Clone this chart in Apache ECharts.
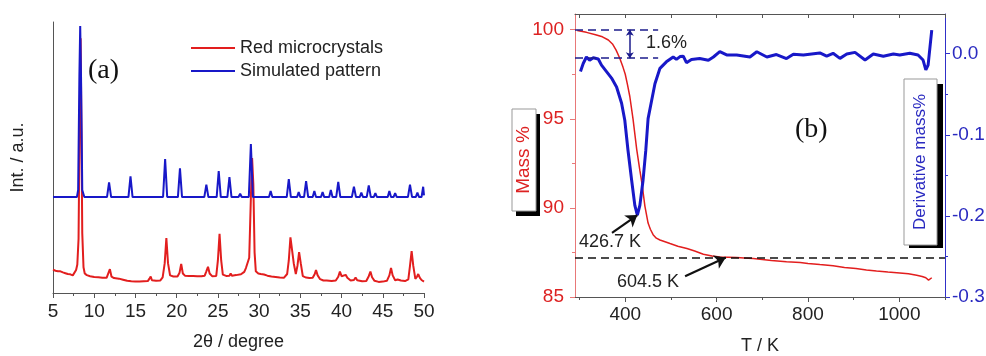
<!DOCTYPE html>
<html>
<head>
<meta charset="utf-8">
<script src="https://cdn.jsdelivr.net/npm/echarts@6/dist/echarts.min.js"></script>
<style>
  html, body { margin: 0; padding: 0; background: #fff; }
  #chart { width: 986px; height: 356px; }
</style>
</head>
<body>
<div id="chart"></div>
<script>
// (a) powder XRD, [2theta, intensity a.u.]
const xrdRed = [
  [5, 8.6], [5.3, 8.2], [5.6, 8.0], [5.9, 8.0], [6.2, 7.6], [6.5, 7.3], [6.8, 7.0], [7.1, 6.9], [7.4, 6.5],
  [7.6, 6.9], [7.8, 8.5], [7.95, 10.5], [8.1, 20], [8.22, 60], [8.35, 94], [8.45, 60], [8.55, 22], [8.7, 9.5],
  [8.85, 7.2], [9.1, 6.6], [9.5, 6.2], [10, 5.9], [10.5, 5.8], [11, 5.6], [11.5, 5.6], [11.7, 6.2], [11.9, 8.8],
  [12.1, 6.0], [12.4, 5.5], [13, 5.3], [13.5, 4.9], [14, 4.5], [14.5, 4.3], [15, 4.2], [15.5, 4.2], [16, 4.3],
  [16.5, 4.4], [16.7, 5.3], [16.85, 6.1], [17.0, 4.7], [17.5, 4.5], [18, 4.6], [18.3, 5.8], [18.55, 11],
  [18.75, 20.3], [18.95, 11], [19.2, 6.5], [19.6, 6.1], [20.1, 6.1], [20.35, 7.5], [20.55, 10.7], [20.75, 7.2],
  [21, 6.4], [21.5, 6.3], [22, 6.3], [22.5, 6.2], [23, 6.2], [23.4, 6.4], [23.6, 8], [23.8, 9.7], [24.0, 7.2],
  [24.3, 6.2], [24.8, 6.3], [25.0, 12], [25.2, 21.8], [25.4, 12], [25.6, 6.8], [26, 6.3], [26.4, 6.4],
  [26.55, 7.2], [26.7, 6.4], [27.2, 6.6], [27.8, 6.9], [28.2, 7.8], [28.4, 9.2], [28.6, 8.5], [28.8, 13],
  [29.0, 35], [29.15, 49.8], [29.3, 40], [29.45, 15], [29.6, 8.0], [29.9, 7.2], [30.2, 7.0], [30.4, 7.5],
  [30.6, 6.8], [31, 6.4], [31.5, 6.1], [32, 5.9], [32.5, 5.7], [33, 5.6], [33.4, 7], [33.6, 12], [33.8, 20.5],
  [33.95, 21], [34.2, 11], [34.45, 7], [34.65, 10], [34.85, 15.1], [35.05, 11], [35.3, 6.2], [35.7, 5.7],
  [35.9, 6.1], [36.1, 5.5], [36.5, 5.6], [36.75, 7], [36.9, 8.5], [37.1, 6.5], [37.4, 5.1], [37.8, 4.6],
  [38.2, 4.6], [38.8, 4.4], [39.3, 4.6], [39.6, 6], [39.8, 7.9], [40.0, 6.2], [40.2, 5.6], [40.5, 6.7],
  [40.7, 5.6], [41.1, 4.6], [41.5, 4.8], [41.7, 5.7], [41.9, 4.7], [42.5, 4.3], [43.0, 4.4], [43.3, 6.2],
  [43.5, 7.9], [43.7, 5.8], [44.0, 4.5], [44.5, 4.1], [45, 4.2], [45.5, 4.5], [45.8, 6.5], [46.0, 9.2],
  [46.2, 6.5], [46.5, 4.7], [46.8, 5], [46.95, 5.5], [47.2, 4.6], [47.7, 4.4], [48.1, 5], [48.3, 10],
  [48.5, 15.5], [48.7, 10], [48.95, 5.2], [49.15, 6], [49.3, 7.0], [49.5, 5.6], [49.7, 4.8], [50, 4.2]
];
const xrdBlue = [
  [5, 35.4], [7.9, 35.4], [8.05, 38], [8.2, 80], [8.3, 98.5], [8.4, 80], [8.55, 38], [8.8, 35.4],
  [11.55, 35.4], [11.8, 40.8], [12.05, 35.4], [14.15, 35.4], [14.4, 43], [14.65, 35.4],
  [16.5, 35.4], [16.7, 36], [16.9, 35.4], [18.35, 35.4], [18.6, 49.4], [18.85, 35.4],
  [20.15, 35.4], [20.4, 46], [20.65, 35.4], [23.35, 35.4], [23.6, 40], [23.85, 35.4],
  [24.85, 35.4], [25.1, 45], [25.35, 35.4], [26.15, 35.4], [26.4, 42.8], [26.65, 35.4],
  [27.5, 35.4], [27.7, 36.6], [27.9, 35.4], [28.75, 35.4], [29.0, 55], [29.25, 35.4],
  [30.1, 35.4], [30.3, 35.9], [30.5, 35.4], [31.2, 35.4], [31.4, 37.6], [31.6, 35.4],
  [33.35, 35.4], [33.6, 42], [33.85, 35.4], [34.6, 35.4], [34.8, 37.2], [35.0, 35.4],
  [35.45, 35.4], [35.7, 41.3], [35.95, 35.4], [36.5, 35.4], [36.7, 37.6], [36.9, 35.4],
  [37.5, 35.4], [37.7, 37.2], [37.9, 35.4], [38.5, 35.4], [38.7, 38], [38.9, 35.4],
  [39.35, 35.4], [39.6, 41], [39.85, 35.4], [41.25, 35.4], [41.5, 39.2], [41.75, 35.4],
  [42.2, 35.4], [42.4, 37], [42.6, 35.4], [43.05, 35.4], [43.3, 39.7], [43.55, 35.4],
  [43.9, 35.4], [44.1, 36.8], [44.3, 35.4], [45.6, 35.4], [45.8, 37.6], [46.0, 35.4],
  [46.3, 35.4], [46.5, 36.8], [46.7, 35.4], [48.05, 35.4], [48.3, 40], [48.55, 35.4],
  [49.0, 35.4], [49.2, 37], [49.4, 35.4], [49.7, 35.4], [49.9, 39.2], [50, 36]
];

// (b) TGA, [T in K, mass %] and derivative [T, d mass%]
const tgaMass = [
  [295, 99.95], [315, 99.85], [335, 99.72], [350, 99.6], [363, 99.42], [372, 99.2], [380, 98.85],
  [388, 98.4], [395, 97.9], [400, 97.5], [405, 96.9], [410, 96.25], [417, 95.0], [425, 93.3],
  [432, 92.1], [437, 91.3], [443, 90.1], [450, 89.15], [455, 88.8], [461, 88.5], [468, 88.3],
  [476, 88.2], [487, 88.1], [498, 88.0], [515, 87.85], [535, 87.72], [552, 87.58], [571, 87.4],
  [590, 87.3], [607, 87.25], [625, 87.23], [644, 87.21], [660, 87.19], [680, 87.16], [700, 87.1],
  [720, 87.05], [753, 86.98], [783, 86.93], [800, 86.88], [826, 86.82], [855, 86.76], [880, 86.66],
  [905, 86.6], [928, 86.52], [950, 86.46], [975, 86.4], [1001, 86.35], [1020, 86.3], [1038, 86.22],
  [1050, 86.15], [1058, 86.08], [1064, 85.95], [1068, 86.0], [1071, 86.08]
];
const tgaDeriv = [
  [302, -0.022], [308, -0.012], [315, -0.004], [322, -0.008], [330, -0.005], [341, -0.0065],
  [348, -0.014], [359, -0.022], [370, -0.030], [381, -0.041], [392, -0.061], [399, -0.082],
  [406, -0.119], [414, -0.156], [421, -0.187], [426.5, -0.199], [432, -0.187], [439, -0.156],
  [445, -0.119], [450, -0.08], [458, -0.057], [465, -0.037], [476, -0.018], [490, -0.010],
  [505, -0.004], [512, -0.007], [520, -0.0035], [527, -0.003], [534, -0.011], [545, -0.007],
  [563, -0.006], [582, -0.008], [593, -0.004], [607, 0.0025], [622, -0.0015], [644, -0.0015],
  [673, -0.004], [688, 0.0025], [710, -0.004], [731, -0.001], [753, -0.006], [768, -0.0005],
  [790, -0.0015], [826, 0.001], [841, -0.003], [855, 0.0005], [870, -0.0057], [885, -0.0004],
  [903, 0.0017], [925, -0.0078], [943, -0.0004], [965, -0.003], [987, -0.0004], [1001, -0.0016],
  [1023, 0.0005], [1041, -0.0016], [1052, -0.0078], [1058, -0.020], [1063, -0.014], [1071, 0.029]
];

// tick positions
const tempLabelTicks = [400, 600, 800, 1000];
const tempMinorTicks = [300, 500, 700, 900, 1100];
const tempTopTicks = [300, 400, 500, 600, 700, 800, 900, 1000, 1100];
const massTicks = [85, 90, 95, 100];
const massMinorTicks = [87.5, 92.5, 97.5];
const derivTicks = [-0.3, -0.2, -0.1, 0];
const derivMinorTicks = [-0.25, -0.15, -0.05];

// annotation values
const plateauMass = 87.2;
const stepTop = 100, stepBottom = 98.4;
const dtgPeak = [426.5, -0.199];
const plateauPoint = [620, 87.22];

const SANS = 'Liberation Sans';
const RED = '#e21e1e';
const BLUE = '#1818c8';
const AXIS = '#555';

const chart = echarts.init(document.getElementById('chart'));

function hiddenAxisBits() {
  return { splitLine: { show: false }, minorSplitLine: { show: false } };
}

const option = {
  animation: false,
  backgroundColor: '#fff',
  grid: [
    { left: 53, top: 22, width: 371, height: 271, outerBoundsMode: 'none' },
    { left: 575, top: 14, width: 370, height: 283, outerBoundsMode: 'none' }
  ],
  legend: {
    data: ['Red microcrystals', 'Simulated pattern'],
    orient: 'vertical',
    left: 186,
    top: 34,
    icon: 'rect',
    itemWidth: 44,
    itemHeight: 2,
    itemGap: 5,
    textStyle: { fontFamily: SANS, fontSize: 18, color: '#222' }
  },
  xAxis: [
    {
      gridIndex: 0, type: 'value', min: 5, max: 50, interval: 5,
      axisLine: { show: true, onZero: false, lineStyle: { color: AXIS } },
      axisTick: { show: true, length: 5, lineStyle: { color: AXIS } },
      minorTick: { show: true, splitNumber: 2, length: 3, lineStyle: { color: AXIS } },
      axisLabel: { fontFamily: SANS, fontSize: 19, color: '#222', margin: 9 },
      name: '2θ / degree', nameLocation: 'middle', nameGap: 40,
      nameTextStyle: { fontFamily: SANS, fontSize: 18, color: '#222' },
      ...hiddenAxisBits()
    },
    {
      gridIndex: 1, type: 'value', min: 290, max: 1100, position: 'bottom',
      axisLine: { show: true, onZero: false, lineStyle: { color: AXIS } },
      axisTick: { show: true, length: 5, customValues: tempLabelTicks, lineStyle: { color: AXIS } },
      axisLabel: {
        customValues: tempLabelTicks, fontFamily: SANS, fontSize: 19, color: '#222', margin: 8,
        formatter: v => String(v)
      },
      name: 'T / K', nameLocation: 'middle', nameGap: 40,
      nameTextStyle: { fontFamily: SANS, fontSize: 18, color: '#222' },
      ...hiddenAxisBits()
    },
    {
      gridIndex: 1, type: 'value', min: 290, max: 1100, position: 'bottom',
      axisLine: { show: false, onZero: false },
      axisTick: { show: true, length: 3, customValues: tempMinorTicks, lineStyle: { color: AXIS } },
      axisLabel: { show: false },
      ...hiddenAxisBits()
    },
    {
      gridIndex: 1, type: 'value', min: 290, max: 1100, position: 'top',
      axisLine: { show: true, onZero: false, lineStyle: { color: AXIS } },
      axisTick: { show: true, inside: true, length: 4, customValues: tempTopTicks, lineStyle: { color: AXIS } },
      axisLabel: { show: false },
      ...hiddenAxisBits()
    }
  ],
  yAxis: [
    {
      gridIndex: 0, type: 'value', min: 0, max: 100,
      axisLine: { show: true, onZero: false, lineStyle: { color: AXIS } },
      axisTick: { show: false }, axisLabel: { show: false },
      name: 'Int. / a.u.', nameLocation: 'middle', nameGap: 26,
      nameTextStyle: { fontFamily: SANS, fontSize: 18, color: '#222' },
      ...hiddenAxisBits()
    },
    {
      gridIndex: 1, type: 'value', position: 'left', min: 85, max: 100.88,
      axisLine: { show: true, onZero: false, lineStyle: { color: '#e87878' } },
      axisTick: { show: true, length: 5, customValues: massTicks, lineStyle: { color: '#e87878' } },
      axisLabel: { customValues: massTicks, fontFamily: SANS, fontSize: 19, color: '#dd2222', margin: 11 },
      ...hiddenAxisBits()
    },
    {
      gridIndex: 1, type: 'value', position: 'left', min: 85, max: 100.88,
      axisLine: { show: false, onZero: false },
      axisTick: { show: true, length: 3, customValues: massMinorTicks, lineStyle: { color: '#e87878' } },
      axisLabel: { show: false },
      ...hiddenAxisBits()
    },
    {
      gridIndex: 1, type: 'value', position: 'right', min: -0.3, max: 0.049,
      axisLine: { show: true, onZero: false, lineStyle: { color: '#3030c8' } },
      axisTick: { show: true, length: 5, customValues: derivTicks, lineStyle: { color: '#3030c8' } },
      axisLabel: {
        customValues: derivTicks, fontFamily: SANS, fontSize: 19, color: '#2a2ac0', margin: 7,
        formatter: v => v.toFixed(1)
      },
      ...hiddenAxisBits()
    },
    {
      gridIndex: 1, type: 'value', position: 'right', min: -0.3, max: 0.049,
      axisLine: { show: false, onZero: false },
      axisTick: { show: true, length: 3, customValues: derivMinorTicks, lineStyle: { color: '#3030c8' } },
      axisLabel: { show: false },
      ...hiddenAxisBits()
    }
  ],
  series: [
    {
      name: 'Red microcrystals', type: 'line', xAxisIndex: 0, yAxisIndex: 0,
      data: xrdRed, symbol: 'none', color: RED, lineStyle: { color: RED, width: 2 }, silent: true
    },
    {
      name: 'Simulated pattern', type: 'line', xAxisIndex: 0, yAxisIndex: 0,
      data: xrdBlue, symbol: 'none', color: BLUE, lineStyle: { color: BLUE, width: 2 }, silent: true
    },
    {
      name: 'Mass', type: 'line', xAxisIndex: 1, yAxisIndex: 1,
      data: tgaMass, symbol: 'none', color: RED, lineStyle: { color: RED, width: 1.5 }, silent: true,
      markLine: {
        silent: true, symbol: ['none', 'none'], label: { show: false },
        data: [
          { yAxis: plateauMass, lineStyle: { color: '#111', width: 1.5, type: [8, 5] } },
          [{ coord: [290, stepTop], lineStyle: { color: '#1c1c8c', width: 1.5, type: [8, 5] } }, { coord: [472, stepTop] }],
          [{ coord: [290, stepBottom], lineStyle: { color: '#1c1c8c', width: 1.5, type: [8, 5] } }, { coord: [472, stepBottom] }],
          [
            { coord: [410, stepTop], symbol: 'arrow', symbolSize: 6, lineStyle: { color: '#1c1c8c', width: 1.5, type: 'solid' } },
            { coord: [410, stepBottom], symbol: 'arrow', symbolSize: 6 }
          ],
          [
            { coord: [531, 86.16], symbol: 'none', lineStyle: { color: '#111', width: 2.2, type: 'solid' } },
            { coord: plateauPoint, symbol: 'arrow', symbolSize: 11 }
          ]
        ]
      }
    },
    {
      name: 'Derivative', type: 'line', xAxisIndex: 1, yAxisIndex: 3,
      data: tgaDeriv, symbol: 'none', color: BLUE, lineStyle: { color: BLUE, width: 3 }, silent: true,
      markLine: {
        silent: true, symbol: ['none', 'none'], label: { show: false },
        data: [
          [
            { coord: [371, -0.221], symbol: 'none', lineStyle: { color: '#111', width: 2.2, type: 'solid' } },
            { coord: dtgPeak, symbol: 'arrow', symbolSize: 11 }
          ]
        ]
      }
    }
  ],
  graphic: [
    { type: 'text', left: 88, top: 57, style: { text: '(a)', font: '28px "Liberation Serif"', fill: '#111' } },
    { type: 'text', left: 795, top: 116, style: { text: '(b)', font: '28px "Liberation Serif"', fill: '#111' } },
    { type: 'text', left: 646, top: 34, style: { text: '1.6%', font: '18px "Liberation Sans"', fill: '#222' } },
    { type: 'text', left: 579, top: 233, style: { text: '426.7 K', font: '18px "Liberation Sans"', fill: '#222' } },
    { type: 'text', left: 617, top: 273, style: { text: '604.5 K', font: '18px "Liberation Sans"', fill: '#222' } },
    // Mass % boxed label
    { type: 'rect', shape: { x: 516, y: 114, width: 24, height: 102 }, style: { fill: '#000' }, z: 10 },
    { type: 'rect', shape: { x: 512, y: 109, width: 24, height: 102 }, style: { fill: '#fff', stroke: '#999', lineWidth: 1 }, z: 11 },
    {
      type: 'text', x: 524, y: 160, rotation: Math.PI / 2, z: 12,
      style: { text: 'Mass %', font: '19px "Liberation Sans"', fill: '#dd2222', align: 'center', verticalAlign: 'middle' }
    },
    // Derivative mass% boxed label
    { type: 'rect', shape: { x: 909, y: 84, width: 34, height: 164 }, style: { fill: '#000' }, z: 10 },
    { type: 'rect', shape: { x: 904, y: 79, width: 33, height: 166 }, style: { fill: '#fff', stroke: '#999', lineWidth: 1 }, z: 11 },
    {
      type: 'text', x: 920, y: 162, rotation: Math.PI / 2, z: 12,
      style: { text: 'Derivative mass%', font: '17px "Liberation Sans"', fill: '#2a2ac0', align: 'center', verticalAlign: 'middle' }
    }
  ]
};

chart.setOption(option);
</script>
</body>
</html>
